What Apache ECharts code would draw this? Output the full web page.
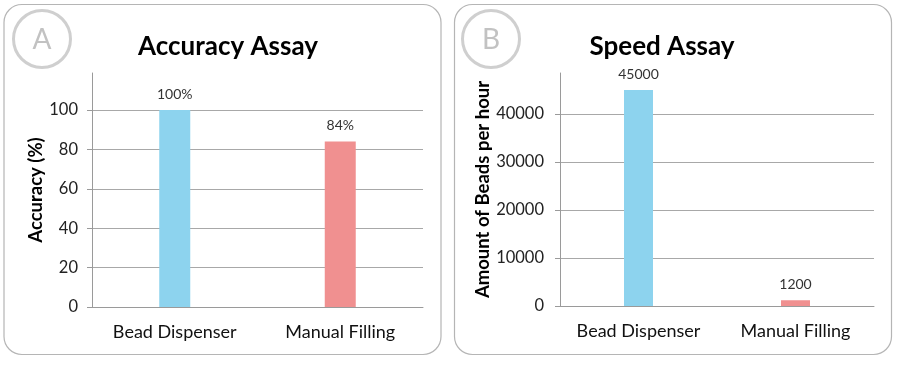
<!DOCTYPE html>
<html><head><meta charset="utf-8">
<script src="https://cdn.jsdelivr.net/npm/echarts@6/dist/echarts.min.js"></script>
<style>html,body{margin:0;padding:0;background:#fff}#c{width:898px;height:367px}</style>
</head><body><div id="c"></div>
<script>
const categories = ['Bead Dispenser', 'Manual Filling'];
const accuracyValues = [100, 84];
const accuracyLabels = ['100%', '84%'];
const speedValues = [45000, 1200];
const speedLabels = ['45000', '1200'];
const panelTitles = ['Accuracy Assay', 'Speed Assay'];
const panelLetters = ['A', 'B'];
const axisNames = ['Accuracy (%)', 'Amount of Beads per hour'];
const barColors = ['#8DD3EE', '#F09090'];

const FONT = 'Lato, "Open Sans", sans-serif';
const chart = echarts.init(document.getElementById('c'));

function yAxis(gi, max, interval, name, nameGap, margin) {
  return {
    type: 'value', gridIndex: gi, min: 0, max: max, interval: interval,
    name: name, nameLocation: 'middle', nameGap: nameGap,
    nameTextStyle: { fontFamily: FONT, fontWeight: 'bold', fontSize: 18.5, color: '#000' },
    axisLine: { show: true, lineStyle: { color: '#9a9a9a', width: 1 } },
    axisTick: { show: true, length: 5, lineStyle: { color: '#9a9a9a' } },
    axisLabel: { fontFamily: FONT, fontSize: 16.5, color: '#222', margin: margin, showMaxLabel: false,
      formatter: v => String(v) },
    splitLine: { show: true, showMaxLine: false, lineStyle: { color: '#a8a8a8', width: 1 } }
  };
}
function xAxis(gi) {
  return {
    type: 'category', gridIndex: gi, data: categories,
    axisLine: { show: true, lineStyle: { color: '#9a9a9a' } },
    axisTick: { show: false },
    axisLabel: { fontFamily: FONT, fontSize: 18, color: '#111', margin: 16, interval: 0, hideOverlap: false }
  };
}
function barSeries(gi, values, labels, bw) {
  return {
    type: 'bar', xAxisIndex: gi, yAxisIndex: gi, barWidth: bw,
    data: values.map((v, i) => ({ value: v, itemStyle: { color: barColors[i] } })),
    label: { show: true, position: 'top', distance: 9, fontFamily: FONT, fontSize: 14, color: '#333',
      formatter: p => labels[p.dataIndex] },
    silent: true
  };
}
function panel(x, letter, title, cx, tcx) {
  return [
    { type: 'rect', shape: { x: x, y: 4.5, width: 437, height: 350, r: 18 },
      style: { fill: 'none', stroke: '#b5b5b5', lineWidth: 1.2 }, silent: true },
    { type: 'circle', shape: { cx: cx, cy: 39, r: 28.5 },
      style: { fill: 'none', stroke: '#cfcfcf', lineWidth: 3 }, silent: true },
    { type: 'text', x: cx, y: 40,
      style: { text: letter, fontFamily: FONT, fontSize: 28, fill: '#c2c2c2', align: 'center', verticalAlign: 'middle' } },
    { type: 'text', x: tcx, y: 47,
      style: { text: title, fontFamily: FONT, fontWeight: 'bold', fontSize: 26, fill: '#000', align: 'center', verticalAlign: 'middle' } }
  ];
}

chart.setOption({
  backgroundColor: '#fff',
  animation: false,
  grid: [
    { left: 92, top: 73, width: 331, height: 234 },
    { left: 560, top: 73, width: 314, height: 233 }
  ],
  xAxis: [xAxis(0), xAxis(1)],
  yAxis: [yAxis(0, 118.8, 20, axisNames[0], 46, 14), yAxis(1, 48540, 10000, axisNames[1], 62, 16)],
  series: [barSeries(0, accuracyValues, accuracyLabels, 31), barSeries(1, speedValues, speedLabels, 29)],
  graphic: [].concat(panel(4, panelLetters[0], panelTitles[0], 42, 228), panel(454.5, panelLetters[1], panelTitles[1], 491, 662))
});
</script></body></html>
